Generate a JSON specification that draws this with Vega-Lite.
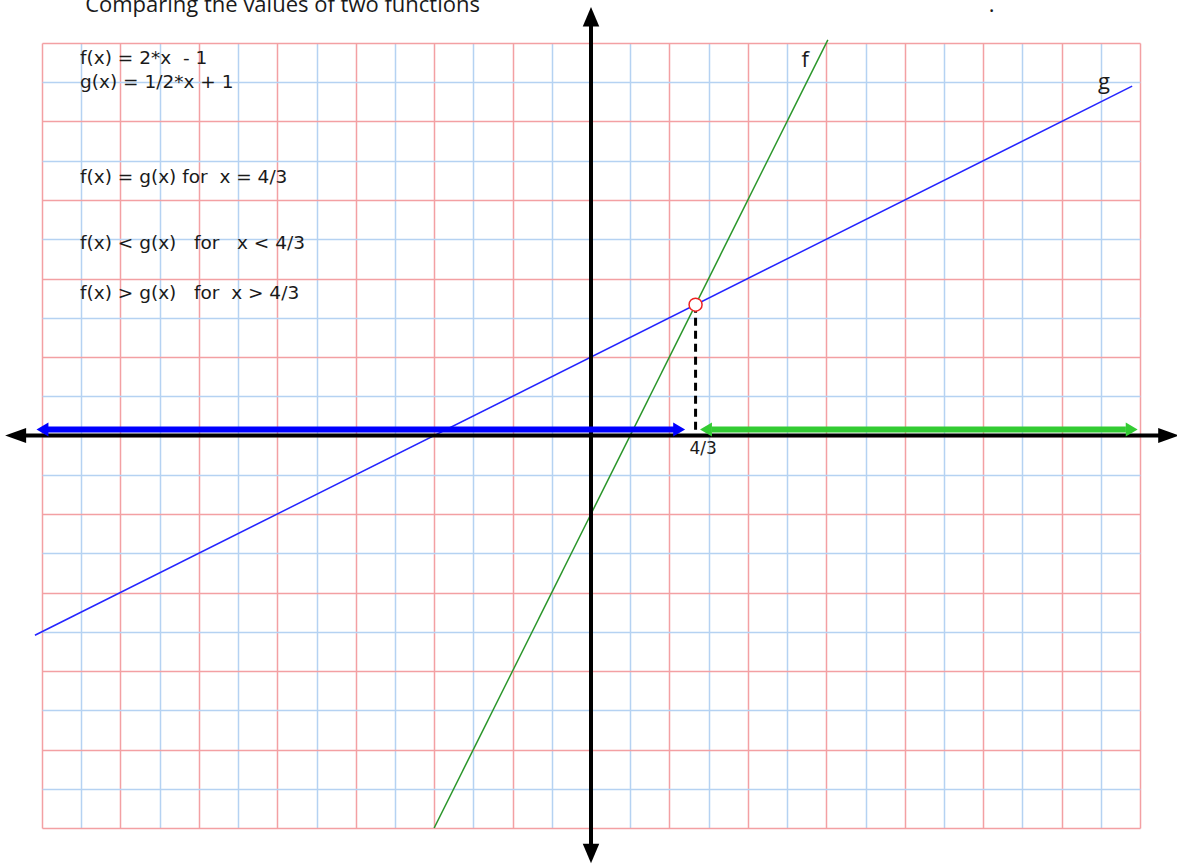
{
  "$schema": "https://vega.github.io/schema/vega-lite/v6.json",
  "width": 1098,
  "height": 785,
  "autosize": {"type": "none"},
  "padding": {"left": 42, "top": 43, "right": 37, "bottom": 39},
  "background": "white",
  "config": {"view": {"stroke": null}, "font": "Open Sans"},
  "encoding": {
    "x": {
      "field": "x", "type": "quantitative",
      "scale": {"domain": [-7, 7], "nice": false, "zero": false},
      "axis": {
        "title": null, "domain": false, "ticks": false, "labels": false, "grid": true,
        "tickValues": [-7,-6.5,-6,-5.5,-5,-4.5,-4,-3.5,-3,-2.5,-2,-1.5,-1,-0.5,0,0.5,1,1.5,2,2.5,3,3.5,4,4.5,5,5.5,6,6.5,7],
        "gridColor": {"condition": {"test": "datum.value % 1 === 0", "value": "#f3a0a3"}, "value": "#b5d2f2"},
        "gridWidth": 1.5, "gridOpacity": 1
      }
    },
    "y": {
      "field": "y", "type": "quantitative",
      "scale": {"domain": [-5, 5], "nice": false, "zero": false},
      "axis": {
        "title": null, "domain": false, "ticks": false, "labels": false, "grid": true,
        "tickValues": [-5,-4.5,-4,-3.5,-3,-2.5,-2,-1.5,-1,-0.5,0,0.5,1,1.5,2,2.5,3,3.5,4,4.5,5],
        "gridColor": {"condition": {"test": "datum.value % 1 === 0", "value": "#f3a0a3"}, "value": "#b5d2f2"},
        "gridWidth": 1.5, "gridOpacity": 1
      }
    }
  },
  "resolve": {"scale": {"shape": "independent"}},
  "layer": [
    {
      "data": {"values": [{"x": -7.09, "y": -2.545}, {"x": 6.9, "y": 4.45}]},
      "mark": {"type": "line", "color": "#2424ff", "strokeWidth": 1.5}
    },
    {
      "data": {"values": [{"x": -2, "y": -5}, {"x": 3.02, "y": 5.04}]},
      "mark": {"type": "line", "color": "#2a962a", "strokeWidth": 1.5}
    },
    {
      "data": {"values": [{"x": 0, "x2": 0, "y": -5.25, "y2": 5.25}, {"x": -7.3, "x2": 7.3, "y": 0, "y2": 0}]},
      "mark": {"type": "rule", "color": "black", "strokeWidth": 4},
      "encoding": {"x2": {"field": "x2"}, "y2": {"field": "y2"}}
    },
    {
      "data": {"values": [{"x": 1.3333, "y": 1.6667, "y2": 0.03}]},
      "mark": {"type": "rule", "color": "black", "strokeWidth": 3, "strokeDash": [8, 5]},
      "encoding": {"y2": {"field": "y2"}}
    },
    {
      "data": {"values": [{"x": -6.93, "x2": 1.07, "y": 0.075, "kind": "lt"}, {"x": 1.54, "x2": 6.82, "y": 0.075, "kind": "gt"}]},
      "mark": {"type": "rule", "strokeWidth": 6},
      "encoding": {
        "x2": {"field": "x2"},
        "color": {"field": "kind", "type": "nominal", "scale": {"domain": ["lt", "gt"], "range": ["#0000ff", "#33cc33"]}, "legend": null}
      }
    },
    {
      "data": {"values": [
        {"x": -7.07, "y": 0.075, "dir": "left", "kind": "lt"},
        {"x": 1.2, "y": 0.075, "dir": "right", "kind": "lt"},
        {"x": 1.39, "y": 0.075, "dir": "left", "kind": "gt"},
        {"x": 6.97, "y": 0.075, "dir": "right", "kind": "gt"}
      ]},
      "mark": {"type": "point", "filled": true, "opacity": 1, "size": 196},
      "encoding": {
        "color": {"field": "kind", "type": "nominal", "scale": {"domain": ["lt", "gt"], "range": ["#0000ff", "#33cc33"]}, "legend": null},
        "shape": {"field": "dir", "type": "nominal", "scale": {"domain": ["left", "right"], "range": ["M0,0L1.7,-1L1.7,1Z", "M0,0L-1.7,-1L-1.7,1Z"]}, "legend": null}
      }
    },
    {
      "data": {"values": [
        {"x": -7.47, "y": 0, "dir": "left"},
        {"x": 7.5, "y": 0, "dir": "right"},
        {"x": 0, "y": 5.46, "dir": "up"},
        {"x": 0, "y": -5.45, "dir": "down"}
      ]},
      "mark": {"type": "point", "filled": true, "opacity": 1, "size": 225, "color": "black"},
      "encoding": {
        "shape": {"field": "dir", "type": "nominal", "scale": {"domain": ["left", "right", "up", "down"], "range": ["M0,0L2.8,-1L2.8,1Z", "M0,0L-2.8,-1L-2.8,1Z", "M0,0L-1.1,2.6L1.1,2.6Z", "M0,0L-1.1,-2.6L1.1,-2.6Z"]}, "legend": null}
      }
    },
    {
      "data": {"values": [{"x": 1.3333, "y": 1.6667}]},
      "mark": {"type": "point", "shape": "circle", "size": 169, "filled": true, "fill": "white", "stroke": "#ee2222", "strokeWidth": 1.5, "opacity": 1}
    },
    {
      "data": {"values": [
        {"label": "f(x) = 2*x \u00a0- 1", "x": -6.515, "y": 4.81},
        {"label": "g(x) = 1/2*x + 1", "x": -6.515, "y": 4.5},
        {"label": "f(x) = g(x) for \u00a0x = 4/3", "x": -6.515, "y": 3.29},
        {"label": "f(x) < g(x) \u00a0\u00a0for \u00a0\u00a0x < 4/3", "x": -6.515, "y": 2.45},
        {"label": "f(x) > g(x) \u00a0\u00a0for \u00a0x > 4/3", "x": -6.515, "y": 1.815}
      ]},
      "mark": {"type": "text", "align": "left", "baseline": "middle", "fontSize": 18.5, "font": "DejaVu Sans", "color": "#1a1a1a"},
      "encoding": {"text": {"field": "label"}}
    },
    {
      "data": {"values": [
        {"label": "f", "x": 2.73, "y": 4.78},
        {"label": "g", "x": 6.54, "y": 4.5}
      ]},
      "mark": {"type": "text", "align": "center", "baseline": "middle", "fontSize": 22, "color": "#1a1a1a"},
      "encoding": {"text": {"field": "label"}}
    },
    {
      "data": {"values": [{"label": "4/3", "x": 1.43, "y": -0.17}]},
      "mark": {"type": "text", "align": "center", "baseline": "middle", "fontSize": 17, "font": "DejaVu Sans", "color": "#1a1a1a"},
      "encoding": {"text": {"field": "label"}}
    },
    {
      "data": {"values": [
        {"label": "Comparing the values of two functions", "x": -6.45, "y": 5.39},
        {"label": ".", "x": 5.07, "y": 5.39}
      ]},
      "mark": {"type": "text", "align": "left", "baseline": "alphabetic", "fontSize": 22, "color": "#1a1a1a"},
      "encoding": {"text": {"field": "label"}}
    }
  ]
}
